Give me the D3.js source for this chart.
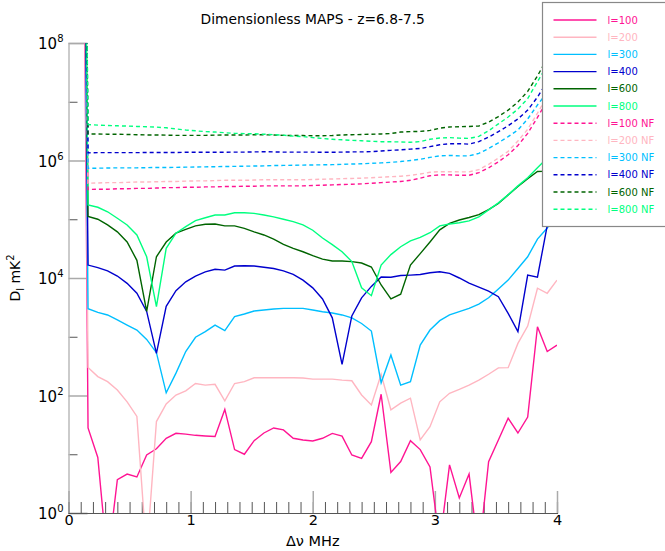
<!DOCTYPE html>
<html>
<head>
  <meta charset='utf-8'>
  <title>Dimensionless MAPS - z=6.8-7.5</title>
  <script src='https://cdn.jsdelivr.net/npm/d3@7'></script>
  <style>
    body { margin: 0; background: #ffffff; }
    text { font-family: 'DejaVu Sans', sans-serif; }
  </style>
</head>
<body>
<svg id='plot-area' width='665' height='551'></svg>
<script>
// frequency separation in MHz
const deltaNu = [0.08, 0.16, 0.24, 0.32, 0.40, 0.48, 0.56, 0.64, 0.72, 0.80,
  0.88, 0.96, 1.04, 1.12, 1.20, 1.28, 1.36, 1.44, 1.52, 1.60,
  1.68, 1.76, 1.84, 1.92, 2.00, 2.08, 2.16, 2.24, 2.32, 2.40,
  2.48, 2.56, 2.64, 2.72, 2.80, 2.88, 2.96, 3.04, 3.12, 3.20,
  3.28, 3.36, 3.44, 3.52, 3.60, 3.68, 3.76, 3.84, 3.92, 4.00];

// D_l in mK^2, one array per multipole
const dl100 = [1e22, 28, 8.8, 0.15, 3.7, 4.6, 4.1, 9.7, 12.4, 18.7,
  22.7, 22, 21, 20.5, 20, 58, 12, 10, 17, 23,
  28, 26, 18.7, 17.5, 16.8, 18.7, 22.6, 20.4, 9.7, 8.5,
  16.4, 105, 4.9, 7.5, 17, 12, 6.1, 0.3, 6.6, 1.8,
  4.6, 0.2, 7.5, 17.5, 41, 23, 43, 1480, 560, 720];
const dl200 = [1e22, 300, 210, 172, 124, 78, 44, 0.2, 36, 72,
  102, 120, 160, 150, 155, 81, 160, 172, 200, 200,
  200, 200, 200, 198, 190, 190, 190, 183, 178, 102,
  69, 230, 57, 74, 90, 17.5, 29.5, 78, 109, 127,
  150, 183, 230, 295, 298, 770, 1520, 6700, 5500, 9200];
const dl300 = [1e22, 3000, 2600, 2350, 1930, 1580, 1300, 900, 535, 111,
  240, 560, 980, 1220, 1580, 1270, 2200, 2440, 2740, 2850,
  2960, 3040, 3040, 3040, 2850, 2670, 2540, 2350, 2100, 1680,
  1250, 165, 490, 150, 172, 720, 1300, 1880, 2350, 2670,
  3040, 3600, 4600, 6500, 9200, 14500, 23000, 46000, 71000, 120000];
const dl400 = [1e22, 16600, 15000, 13200, 10800, 8100, 5500, 2700, 520, 3300,
  6100, 8600, 10800, 12700, 14100, 13600, 16000, 16200, 16000, 15200,
  14500, 13200, 11500, 9200, 6800, 4400, 2100, 340, 2260, 4600,
  7200, 10400, 10300, 11000, 11200, 11500, 12300, 12800, 12000, 10000,
  8200, 7000, 6000, 4800, 2500, 1220, 11200, 10300, 78000, 130000];
const dl600 = [1e22, 112000, 100000, 80000, 61000, 41000, 20000, 2700, 23000, 41000,
  58000, 67000, 77000, 82000, 83000, 77000, 77000, 70000, 61000, 54000,
  46000, 37500, 32000, 28000, 24000, 21000, 19500, 19500, 19000, 18000,
  15400, 7600, 4400, 5300, 16600, 26000, 41000, 66000, 85000, 97000,
  107000, 120000, 146000, 185000, 260000, 360000, 490000, 650000, 660000, 800000];
const dl800 = [1e22, 175000, 160000, 134000, 104000, 80000, 54000, 23000, 3250, 32000,
  58000, 75000, 95000, 106000, 118000, 118000, 129000, 129000, 126000, 118000,
  110000, 100000, 91000, 80000, 65000, 48000, 37000, 28000, 19000, 6800,
  5000, 16600, 25000, 34000, 43000, 49000, 59000, 77000, 83000, 87000,
  94000, 110000, 144000, 190000, 260000, 370000, 510000, 750000, 1100000, 1600000];

// same multipoles without foregrounds (NF)
const nf100 = [1e22, 3.2e5, 3.25e5, 3.25e5, 3.3e5, 3.3e5, 3.35e5, 3.35e5, 3.4e5, 3.45e5,
  3.45e5, 3.5e5, 3.5e5, 3.55e5, 3.55e5, 3.6e5, 3.6e5, 3.65e5, 3.65e5, 3.7e5,
  3.7e5, 3.7e5, 3.7e5, 3.7e5, 3.75e5, 3.8e5, 3.85e5, 3.9e5, 3.95e5, 4.0e5,
  4.1e5, 4.2e5, 4.3e5, 4.4e5, 4.6e5, 5.0e5, 5.5e5, 5.7e5, 5.7e5, 5.6e5,
  5.6e5, 6.2e5, 7.5e5, 9.5e5, 1.25e6, 1.8e6, 2.9e6, 5.4e6, 1.05e7, 2.0e7];
const nf200 = [1e22, 4.1e5, 4.15e5, 4.2e5, 4.2e5, 4.25e5, 4.3e5, 4.3e5, 4.35e5, 4.4e5,
  4.4e5, 4.45e5, 4.5e5, 4.5e5, 4.55e5, 4.6e5, 4.6e5, 4.6e5, 4.65e5, 4.7e5,
  4.7e5, 4.7e5, 4.7e5, 4.7e5, 4.75e5, 4.8e5, 4.85e5, 4.9e5, 4.95e5, 5.0e5,
  5.1e5, 5.2e5, 5.3e5, 5.4e5, 5.6e5, 5.9e5, 6.3e5, 6.45e5, 6.45e5, 6.4e5,
  6.4e5, 7.0e5, 8.6e5, 1.1e6, 1.43e6, 2.15e6, 3.4e6, 6.4e6, 1.25e7, 2.3e7];
const nf300 = [1e22, 7.4e5, 7.4e5, 7.45e5, 7.5e5, 7.5e5, 7.5e5, 7.55e5, 7.6e5, 7.6e5,
  7.65e5, 7.7e5, 7.75e5, 7.8e5, 7.85e5, 7.9e5, 7.95e5, 8.0e5, 8.05e5, 8.1e5,
  8.2e5, 8.25e5, 8.3e5, 8.35e5, 8.4e5, 8.45e5, 8.5e5, 8.6e5, 8.7e5, 8.8e5,
  8.95e5, 9.1e5, 9.3e5, 9.6e5, 1.0e6, 1.05e6, 1.13e6, 1.2e6, 1.22e6, 1.2e6,
  1.2e6, 1.32e6, 1.6e6, 2.0e6, 2.55e6, 3.3e6, 5.1e6, 8.8e6, 1.45e7, 2.4e7];
const nf400 = [1e22, 1.35e6, 1.36e6, 1.36e6, 1.36e6, 1.36e6, 1.36e6, 1.37e6, 1.37e6, 1.37e6,
  1.37e6, 1.38e6, 1.38e6, 1.38e6, 1.38e6, 1.38e6, 1.39e6, 1.39e6, 1.40e6, 1.41e6,
  1.40e6, 1.39e6, 1.39e6, 1.39e6, 1.39e6, 1.38e6, 1.38e6, 1.39e6, 1.40e6, 1.40e6,
  1.42e6, 1.45e6, 1.49e6, 1.52e6, 1.56e6, 1.6e6, 1.72e6, 1.85e6, 1.93e6, 1.93e6,
  1.9e6, 2.1e6, 2.5e6, 3.1e6, 3.9e6, 5.1e6, 7.2e6, 1.2e7, 2.2e7, 3.7e7];
const nf600 = [1e22, 2.83e6, 2.83e6, 2.8e6, 2.8e6, 2.77e6, 2.75e6, 2.72e6, 2.72e6, 2.7e6,
  2.68e6, 2.68e6, 2.68e6, 2.68e6, 2.7e6, 2.72e6, 2.72e6, 2.72e6, 2.74e6, 2.74e6,
  2.72e6, 2.68e6, 2.66e6, 2.66e6, 2.64e6, 2.64e6, 2.66e6, 2.72e6, 2.75e6, 2.77e6,
  2.8e6, 2.83e6, 2.88e6, 3.05e6, 3.1e6, 3.13e6, 3.25e6, 3.55e6, 3.72e6, 3.76e6,
  3.8e6, 3.87e6, 4.5e6, 5.6e6, 7.2e6, 9.9e6, 1.5e7, 2.75e7, 5.5e7, 1.0e8];
const nf800 = [1e22, 4.1e6, 4.0e6, 3.95e6, 3.9e6, 3.85e6, 3.8e6, 3.75e6, 3.7e6, 3.6e6,
  3.45e6, 3.3e6, 3.2e6, 3.1e6, 3.05e6, 2.97e6, 2.9e6, 2.87e6, 2.85e6, 2.8e6,
  2.75e6, 2.7e6, 2.6e6, 2.55e6, 2.45e6, 2.37e6, 2.3e6, 2.25e6, 2.2e6, 2.17e6,
  2.12e6, 2.09e6, 2.08e6, 2.07e6, 2.04e6, 2.1e6, 2.3e6, 2.42e6, 2.45e6, 2.4e6,
  2.38e6, 2.57e6, 3.2e6, 4.2e6, 5.5e6, 7.5e6, 1.13e7, 2.2e7, 4.2e7, 8.2e7];

const seriesLabels = ['l=100', 'l=200', 'l=300', 'l=400', 'l=600', 'l=800',
  'l=100 NF', 'l=200 NF', 'l=300 NF', 'l=400 NF', 'l=600 NF', 'l=800 NF'];
const seriesValues = [dl100, dl200, dl300, dl400, dl600, dl800,
  nf100, nf200, nf300, nf400, nf600, nf800];
const palette = ['#ff1493', '#ffb6c1', '#00bfff', '#0000cd', '#006400', '#00ff7f'];
const yMajorTicks = [1, 1e2, 1e4, 1e6, 1e8];
const yMinorTicks = [10, 1e3, 1e5, 1e7];
const yTickExponents = ['0', '2', '4', '6', '8'];

const series = seriesLabels.map((label, i) => ({
    label: label,
    color: palette[i % 6],
    dashed: i >= 6,
    points: seriesValues[i].map((v, j) => ({ x: deltaNu[j], y: v }))
}));

// prepares the plot area
const margin = { top: 43, right: 108, bottom: 38, left: 68.5 };
const width = 665;
const height = 551;
const svg = d3.select('#plot-area');
const x = d3.scaleLinear()
    .domain([0, 4])
    .range([margin.left, width - margin.right]);
const y = d3.scaleLog()
    .domain([1, 1e8])
    .range([height - margin.bottom, margin.top]);

svg.append('defs')
    .append('clipPath')
        .attr('id', 'view-clip')
        .append('rect')
            .attr('x', margin.left)
            .attr('y', margin.top)
            .attr('width', x(4) - margin.left)
            .attr('height', y(1) - margin.top);

// axes: ticks point inwards, majors longer and lighter
const yMinorAxis = d3.axisRight(y)
    .tickValues(yMinorTicks)
    .tickSize(9)
    .tickFormat('');
const yMajorAxis = d3.axisRight(y)
    .tickValues(yMajorTicks)
    .tickSize(19)
    .tickFormat('');
const gYMinor = svg.append('g')
    .attr('transform', `translate(${margin.left}, 0)`)
    .call(yMinorAxis);
gYMinor.select('.domain').remove();
gYMinor.selectAll('line').attr('stroke', '#555555');
const gYMajor = svg.append('g')
    .attr('transform', `translate(${margin.left}, 0)`)
    .call(yMajorAxis);
gYMajor.select('.domain').attr('stroke', '#bbbbbb').attr('stroke-width', 1.5);
gYMajor.selectAll('line').attr('stroke', '#aaaaaa').attr('stroke-width', 1.5);

const xMinorAxis = d3.axisTop(x)
    .tickValues(x.ticks(40))
    .tickSize(11)
    .tickFormat('');
const xMajorAxis = d3.axisTop(x)
    .tickValues(x.ticks(4))
    .tickSize(22)
    .tickFormat('');
const gXMinor = svg.append('g')
    .attr('transform', `translate(0, ${y(1)})`)
    .call(xMinorAxis);
gXMinor.select('.domain').attr('stroke', '#555555').attr('stroke-width', 1.2);
gXMinor.selectAll('line').attr('stroke', '#555555');
const gXMajor = svg.append('g')
    .attr('transform', `translate(0, ${y(1)})`)
    .call(xMajorAxis);
gXMajor.select('.domain').remove();
gXMajor.selectAll('line').attr('stroke', '#aaaaaa').attr('stroke-width', 1.5);

// tick labels
const xLabels = d3.axisBottom(x)
    .ticks(4)
    .tickSize(0)
    .tickPadding(2)
    .tickFormat(d3.format('d'));
const gXLabels = svg.append('g')
    .attr('transform', `translate(0, ${y(1)})`)
    .call(xLabels);
gXLabels.select('.domain').remove();
gXLabels.selectAll('text')
    .attr('font-family', "'DejaVu Sans', sans-serif")
    .attr('font-size', 14.5)
    .attr('fill', '#000000');

const yLabel = svg.append('g').selectAll('text')
    .data(yMajorTicks)
    .join('text')
        .attr('x', margin.left - 5)
        .attr('y', d => y(d) + 6)
        .attr('text-anchor', 'end')
        .attr('font-size', 15);
yLabel.append('tspan').text('10');
yLabel.append('tspan')
    .attr('font-size', 10)
    .attr('dy', -7)
    .text((d, i) => yTickExponents[i]);

// curves
const line = d3.line()
    .x(d => x(d.x))
    .y(d => y(d.y));
svg.append('g')
    .attr('clip-path', 'url(#view-clip)')
    .selectAll('path')
    .data(series)
    .join('path')
        .attr('fill', 'none')
        .attr('stroke', d => d.color)
        .attr('stroke-width', 1.4)
        .attr('stroke-dasharray', d => d.dashed ? '4,3' : null)
        .attr('d', d => line(d.points));

// titles
svg.append('text')
    .attr('x', (x(0) + x(4)) / 2)
    .attr('y', 24)
    .attr('text-anchor', 'middle')
    .attr('font-size', 13.8)
    .text('Dimensionless MAPS - z=6.8-7.5');
svg.append('text')
    .attr('x', (x(0) + x(4)) / 2)
    .attr('y', 546)
    .attr('text-anchor', 'middle')
    .attr('font-size', 14.5)
    .text('\u0394\u03bd MHz');
const yTitle = svg.append('text')
    .attr('transform', `translate(20, ${(y(1) + y(1e8)) / 2}) rotate(-90)`)
    .attr('text-anchor', 'middle')
    .attr('font-size', 14);
yTitle.append('tspan').text('D');
yTitle.append('tspan').attr('font-size', 10).attr('dy', 4).text('l');
yTitle.append('tspan').attr('dy', -4).text(' mK');
yTitle.append('tspan').attr('font-size', 10).attr('dy', -6).text('2');

// legend
const legend = svg.append('g')
    .attr('transform', 'translate(542.5, 2.5)');
legend.append('rect')
    .attr('width', 130)
    .attr('height', 224)
    .attr('fill', '#ffffff')
    .attr('stroke', '#888888')
    .attr('stroke-width', 1.2);
const rows = legend.selectAll('g.row')
    .data(series)
    .join('g')
        .attr('class', 'row')
        .attr('transform', (d, i) => `translate(0, ${17.5 + i * 17.2})`);
rows.append('line')
    .attr('x1', 11)
    .attr('x2', 54)
    .attr('stroke', d => d.color)
    .attr('stroke-width', 1.4)
    .attr('stroke-dasharray', d => d.dashed ? '4,3' : null);
rows.append('text')
    .attr('x', 65)
    .attr('dy', '0.35em')
    .attr('font-size', 10)
    .attr('fill', d => d.color)
    .text(d => d.label);
</script>
</body>
</html>
